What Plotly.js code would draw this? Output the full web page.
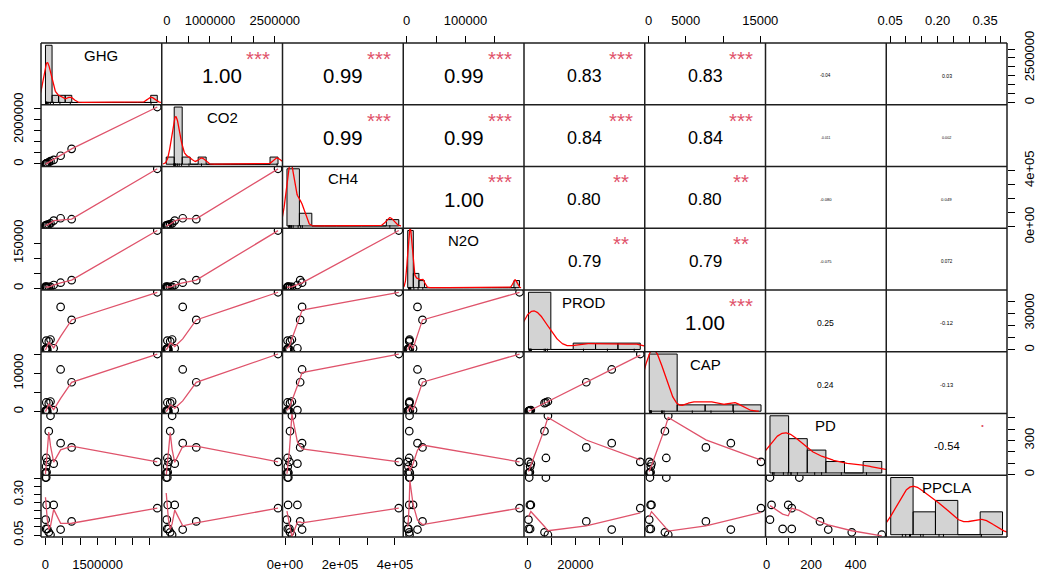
<!DOCTYPE html>
<html><head><meta charset="utf-8">
<script src="https://cdn.plot.ly/plotly-3.0.1.min.js"></script>
<style>html,body{margin:0;padding:0;background:#fff;}#chart{width:1038px;height:572px;}</style>
</head><body><div id="chart"></div>
<script>
// ---------------- data ----------------
const varNames = ["GHG","CO2","CH4","N2O","PROD","CAP","PD","PPCLA"];
const GHG   = [5500, 27500, 37500, 11000, 23000, 58000, 241000, 3210000, 755000, 440000, 100000, 150000];
const CO2   = [-12000, 14000, 22000, 2000, 10000, 40000, 185000, 2575000, 683000, 370000, 80000, 125000];
const CH4   = [12000, 9000, 11000, 7000, 10000, 16000, 45000, 414000, 55000, 62000, 18000, 25000];
const N2O   = [5500, 4500, 4500, 2000, 3000, 1900, 11000, 192000, 27000, 18500, 4500, 5000];
const PROD  = [600, 7630, 900, 300, 1000, 400, 1300, 47300, 24600, 35300, 7030, 8470];
const CAP   = [190, 2390, 280, 95, 310, 125, 400, 15100, 7700, 11050, 2200, 2650];
const PD    = [15, 147, 22, 15, 72, 113, 97, 113, 240, 277, 383, 518];
const PPCLA = [0.405, 0.405, 0.236, 0.145, 0.088, 0.088, 0.236, 0.216, 0.134, 0.084, 0.067, 0.052];

// correlation labels of the upper panels, row by row (columns to the right of the diagonal)
const corrText = [
  ["1.00","0.99","0.99","0.83","0.83","-0.04","0.03"],
  ["0.99","0.99","0.84","0.84","-0.011","0.002"],
  ["1.00","0.80","0.80","-0.080","0.049"],
  ["0.79","0.79","-0.075","0.072"],
  ["1.00","0.25","-0.12"],
  ["0.24","-0.13"],
  ["-0.54"]
];
const corrStars = [
  ["***","***","***","***","***","",""],
  ["***","***","***","***","",""],
  ["***","**","**","",""],
  ["**","**","",""],
  ["***","",""],
  ["",""],
  ["."]
];

// tick positions per variable
const tickVals = [
  [0,500000,1000000,1500000,2000000,2500000,3000000],
  [0,500000,1000000,1500000,2000000,2500000],
  [0,100000,200000,300000,400000],
  [0,50000,100000,150000],
  [0,10000,20000,30000,40000],
  [0,5000,10000,15000],
  [0,100,200,300,400,500],
  [0.05,0.10,0.15,0.20,0.25,0.30,0.35,0.40]
];
// labels printed on the column axes (bottom for odd columns, top for even ones)
const colTickText = [
  ["0","","","1500000","","",""],
  ["0","","1000000","","","2500000"],
  ["0e+00","","2e+05","","4e+05"],
  ["0","","100000",""],
  ["0","","20000","",""],
  ["0","5000","","15000"],
  ["0","","200","","400",""],
  ["0.05","","","0.20","","","0.35",""]
];
// labels printed on the row axes (right for odd rows, left for even ones)
const rowTickText = [
  ["0","","","","","2500000",""],
  ["0","","","","2000000",""],
  ["0e+00","","","","4e+05"],
  ["0","","","150000"],
  ["0","","","30000",""],
  ["0","","10000",""],
  ["0","","","300","",""],
  ["0.05","","","","","0.30","",""]
];
// histogram breaks: [first break, bin width, number of bins]
const histBreaks = [
  [0,200000,17],[-200000,200000,14],[0,50000,9],[0,10000,20],
  [0,10000,5],[0,5000,4],[0,100,6],[0,0.1,5]
];

// ---------------- helpers ----------------
const series = [GHG, CO2, CH4, N2O, PROD, CAP, PD, PPCLA];
const NV = series.length;

function padRange(v){const mn=Math.min(...v),mx=Math.max(...v),d=mx-mn;return [mn-0.04*d,mx+0.04*d];}

function lowess(xs0, ys0, f, nsteps){
  const n=xs0.length;
  const idx=xs0.map((_,i)=>i).sort((a,b)=>(xs0[a]-xs0[b])||(a-b));
  const x=[0].concat(idx.map(i=>xs0[i])), y=[0].concat(idx.map(i=>ys0[i]));
  const delta=0.01*(x[n]-x[1]);
  const ys=new Array(n+1).fill(0), rw=new Array(n+1).fill(1), w=new Array(n+1).fill(0), resid=new Array(n+1).fill(0);
  const ns=Math.max(2,Math.min(n,Math.floor(f*n+1e-7)));
  function lowest(xsv,nleft,nright,userw){
    const range=x[n]-x[1];
    const h=Math.max(xsv-x[nleft],x[nright]-xsv), h9=0.999*h, h1=0.001*h;
    let a=0,j=nleft;
    while(j<=n){
      w[j]=0;const r=Math.abs(x[j]-xsv);
      if(r<=h9){w[j]=r<=h1?1:Math.pow(1-Math.pow(r/h,3),3);if(userw)w[j]*=rw[j];a+=w[j];}
      else if(x[j]>xsv)break;
      j++;
    }
    const nrt=j-1;
    if(a<=0)return null;
    for(j=nleft;j<=nrt;j++)w[j]/=a;
    if(h>0){
      a=0;for(j=nleft;j<=nrt;j++)a+=w[j]*x[j];
      let b=xsv-a,c=0;for(j=nleft;j<=nrt;j++)c+=w[j]*(x[j]-a)*(x[j]-a);
      if(Math.sqrt(c)>0.001*range){b/=c;for(j=nleft;j<=nrt;j++)w[j]*=(b*(x[j]-a)+1);}
    }
    let out=0;for(j=nleft;j<=nrt;j++)out+=w[j]*y[j];
    return out;
  }
  let iter=1;
  while(iter<=nsteps+1){
    let nleft=1,nright=ns,last=0,i=1;
    for(;;){
      if(nright<n){const d1=x[i]-x[nleft],d2=x[nright+1]-x[i];if(d1>d2){nleft++;nright++;continue;}}
      const v=lowest(x[i],nleft,nright,iter>1);
      ys[i]=(v===null)?y[i]:v;
      if(last<i-1){const den=x[i]-x[last];for(let j=last+1;j<i;j++){const al=(x[j]-x[last])/den;ys[j]=al*ys[i]+(1-al)*ys[last];}}
      last=i;
      const cut=x[last]+delta;
      for(i=last+1;i<=n;i++){if(x[i]>cut)break;if(x[i]===x[last]){ys[i]=ys[last];last=i;}}
      i=Math.max(last+1,i-1);
      if(last>=n)break;
    }
    for(let k=1;k<=n;k++)resid[k]=y[k]-ys[k];
    let sc=0;for(let k=1;k<=n;k++)sc+=Math.abs(resid[k]);sc/=n;
    if(iter>nsteps)break;
    const ar=[];for(let k=1;k<=n;k++)ar.push(Math.abs(resid[k]));ar.sort((a,b)=>a-b);
    const m1=Math.floor(n/2);let cmad;
    if(n%2===0){const m2=n-m1-1;cmad=3*(ar[m1]+ar[m2]);}else cmad=6*ar[m1];
    if(cmad<1e-7*sc)break;
    const c9=0.999*cmad,c1=0.001*cmad;
    for(let k=1;k<=n;k++){const r=Math.abs(resid[k]);rw[k]=r<=c1?1:(r<=c9?Math.pow(1-Math.pow(r/cmad,2),2):0);}
    iter++;
  }
  return {x:x.slice(1),y:ys.slice(1)};
}

function kde(v){
  const n=v.length,mean=v.reduce((a,b)=>a+b,0)/n;
  const sd=Math.sqrt(v.reduce((a,b)=>a+(b-mean)*(b-mean),0)/(n-1));
  const s=[...v].sort((a,b)=>a-b);
  const q=p=>{const h=(n-1)*p,lo=Math.floor(h),hi=Math.min(lo+1,n-1);return s[lo]+(h-lo)*(s[hi]-s[lo]);};
  let lo=Math.min(sd,(q(0.75)-q(0.25))/1.34);
  if(!(lo>0))lo=sd||Math.abs(s[0])||1;
  const bw=0.9*lo*Math.pow(n,-0.2);
  const from=s[0]-3*bw,to=s[n-1]+3*bw,X=[],Y=[];
  for(let k=0;k<512;k++){
    const xx=from+(to-from)*k/511;let sum=0;
    for(const d of v){const z=(xx-d)/bw;sum+=Math.exp(-0.5*z*z);}
    X.push(xx);Y.push(sum/(n*bw*Math.sqrt(2*Math.PI)));
  }
  return {x:X,y:Y};
}

function hist(v,start,step,count){
  const br=[];for(let k=0;k<=count;k++)br.push(start+step*k);
  const cnt=new Array(count).fill(0);
  for(const d of v){
    for(let k=0;k<count;k++){
      const lo=br[k],hi=br[k+1],eps=1e-9*step;
      if((d>lo+eps||(k===0&&d>=lo-eps))&&d<=hi+eps){cnt[k]++;break;}
    }
  }
  return {breaks:br,dens:cnt.map(c=>c/(v.length*step))};
}

function emWidth(t){let w=0;for(const ch of t){w+=ch==='.'?0.278:(ch==='-'?0.333:0.556);}return w;}

// ---------------- build figure ----------------
const FONT='"Liberation Sans", Arial, Helvetica, sans-serif';
const traces=[];
const layout={
  width:1038,height:572,
  margin:{l:41,r:31,t:43,b:35,pad:0},
  paper_bgcolor:'#ffffff',plot_bgcolor:'rgba(0,0,0,0)',
  showlegend:false,
  font:{family:FONT,size:13,color:'#000'},
  shapes:[],annotations:[]
};
const axName=(p,k)=>p+'axis'+(k===1?'':k);
const axRef=(p,k)=>p+(k===1?'':k);

for(let c=0;c<NV;c++){
  const top=(c%2===1);
  layout[axName('x',c+1)]={
    domain:[c/NV,(c+1)/NV],range:padRange(series[c]),
    side:top?'top':'bottom',anchor:'free',position:top?1:0,
    showgrid:false,zeroline:false,showline:false,
    ticks:'outside',ticklen:7,tickwidth:1,tickcolor:'#000',
    tickmode:'array',tickvals:tickVals[c],ticktext:colTickText[c],
    tickfont:{family:FONT,size:13,color:'#000'},
    ticklabelstandoff:top?6:8,automargin:false,fixedrange:true
  };
}
for(let r=0;r<NV;r++){
  const right=(r%2===0);
  layout[axName('y',r+1)]={
    domain:[(NV-1-r)/NV,(NV-r)/NV],range:padRange(series[r]),
    side:right?'right':'left',anchor:'free',position:right?1:0,
    showgrid:false,zeroline:false,showline:false,
    ticks:'outside',ticklen:7,tickwidth:1,tickcolor:'#000',
    tickmode:'array',tickvals:tickVals[r],ticktext:rowTickText[r],tickangle:-90,
    tickfont:{family:FONT,size:13,color:'#000'},
    ticklabelstandoff:right?3:6,automargin:false,fixedrange:true
  };
}

// lower panels: scatter + lowess
for(let r=1;r<NV;r++){
  for(let c=0;c<r;c++){
    const xa=axRef('x',c+1),ya=axRef('y',r+1);
    traces.push({type:'scatter',mode:'markers',x:series[c],y:series[r],xaxis:xa,yaxis:ya,
      marker:{symbol:'circle-open',size:7.5,color:'#000',line:{width:1.2,color:'#000'}},hoverinfo:'skip'});
    const lw=lowess(series[c],series[r],2/3,3);
    traces.push({type:'scatter',mode:'lines',x:lw.x,y:lw.y,xaxis:xa,yaxis:ya,
      line:{color:'#DF536B',width:1.3},hoverinfo:'skip'});
  }
}
// empty traces so the first row and last column axes are drawn
traces.push({type:'scatter',mode:'markers',x:[],y:[],xaxis:'x',yaxis:'y',hoverinfo:'skip'});
traces.push({type:'scatter',mode:'markers',x:[],y:[],xaxis:axRef('x',NV),yaxis:axRef('y',NV),hoverinfo:'skip'});

// diagonal panels: histogram + density + rug
for(let k=0;k<NV;k++){
  const [st,sp,nb]=histBreaks[k];
  const h=hist(series[k],st,sp,nb);
  const maxD=Math.max(...h.dens);
  const b0=h.breaks[0],b1=h.breaks[h.breaks.length-1],B=b1-b0;
  const xi=NV+k+1;
  const yr=[-0.04*maxD,1.04*maxD];
  layout[axName('x',xi)]={domain:[k/NV,(k+1)/NV],range:[b0-0.04*B,b1+0.04*B],visible:false,fixedrange:true};
  layout[axName('y',xi)]={domain:[(NV-1-k)/NV,(NV-k)/NV],range:yr,visible:false,fixedrange:true};
  const px=[],py=[];
  for(let j=0;j<nb;j++){
    px.push(h.breaks[j],h.breaks[j],h.breaks[j+1],h.breaks[j+1],h.breaks[j],null);
    py.push(0,h.dens[j],h.dens[j],0,0,null);
  }
  traces.push({type:'scatter',mode:'lines',x:px,y:py,fill:'toself',fillcolor:'#D3D3D3',
    line:{color:'#000',width:1},xaxis:axRef('x',xi),yaxis:axRef('y',xi),hoverinfo:'skip'});
  const dn=kde(series[k]);
  traces.push({type:'scatter',mode:'lines',x:dn.x,y:dn.y,line:{color:'#FF0000',width:1.3},
    xaxis:axRef('x',xi),yaxis:axRef('y',xi),hoverinfo:'skip'});
  traces.push({type:'scatter',mode:'markers',x:series[k],y:series[k].map(()=>yr[0]+0.015*(yr[1]-yr[0])),
    marker:{symbol:'line-ns-open',size:3,color:'#000',line:{width:1,color:'#000'}},
    xaxis:axRef('x',xi),yaxis:axRef('y',xi),hoverinfo:'skip'});
  layout.annotations.push({xref:'paper',yref:'paper',x:(k+0.5)/NV,y:(NV-1-k+0.8)/NV,
    text:varNames[k],showarrow:false,xanchor:'center',yanchor:'middle',font:{family:FONT,size:15,color:'#000'}});
}

// upper panels: correlation text and stars
const BASE=20.5*1.946;
for(let r=0;r<NV-1;r++){
  for(let c=r+1;c<NV;c++){
    const txt=corrText[r][c-r-1],st=corrStars[r][c-r-1];
    const cex=BASE/emWidth(txt);
    const fs=cex*(Math.abs(parseFloat(txt))+0.3)/1.3;
    layout.annotations.push({xref:'paper',yref:'paper',x:(c+0.5)/NV,y:(NV-1-r+0.5)/NV,
      text:txt,showarrow:false,xanchor:'center',yanchor:'middle',yshift:-2,
      font:{family:FONT,size:fs,color:'#000'}});
    if(st){
      const ysh=(st==='.')?0.3*cex:-0.15*cex;
      layout.annotations.push({xref:'paper',yref:'paper',x:(c+0.8)/NV,y:(NV-1-r+0.8)/NV,
        text:st,showarrow:false,xanchor:'center',yanchor:'middle',yshift:ysh,
        font:{family:FONT,size:cex,color:'#DF536B'}});
    }
  }
}

// panel borders
for(let k=0;k<=NV;k++){
  layout.shapes.push({type:'line',xref:'paper',yref:'paper',x0:k/NV,x1:k/NV,y0:0,y1:1,line:{color:'#1e1e1e',width:1.5}});
  layout.shapes.push({type:'line',xref:'paper',yref:'paper',x0:0,x1:1,y0:k/NV,y1:k/NV,line:{color:'#1e1e1e',width:1.5}});
}

Plotly.newPlot('chart',traces,layout,{staticPlot:true,displayModeBar:false});
</script>
</body></html>
